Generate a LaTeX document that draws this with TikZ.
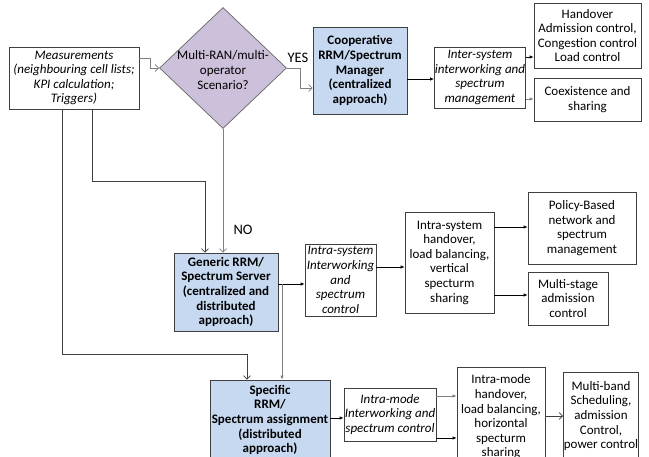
\documentclass[tikz,border=0pt]{standalone}
\usepackage{fontspec}
\setmainfont{Carlito}
\usetikzlibrary{shapes.geometric,arrows.meta}

\definecolor{boxline}{HTML}{404040}
\definecolor{linkgray}{HTML}{7F7F7F}
\definecolor{lilac}{HTML}{CCC0DA}
\definecolor{paleblue}{HTML}{C6D9F1}

\tikzset{
  txt/.style={font=\fontsize{13}{14.6}\selectfont, align=center, inner sep=0.5pt},
  answer/.style={txt, font=\fontsize{14.5}{16}\selectfont},
  plainbox/.style={txt, draw=boxline, line width=0.7pt, fill=white},
  italbox/.style={plainbox, font=\fontsize{13}{14.6}\selectfont\itshape},
  bluebox/.style={txt, draw=boxline, line width=0.7pt, fill=paleblue,
    font=\fontsize{13}{14.6}\selectfont\bfseries},
  dims/.style 2 args={minimum width=#1, minimum height=#2},
  solid link/.style={draw=black, line width=0.7pt, -{Latex[length=4pt,width=3.5pt]}},
  gray link/.style={draw=linkgray, line width=0.9pt, -{Latex[length=4pt,width=3.5pt]}},
  open link/.style={draw=linkgray, line width=0.7pt, -{Straight Barb[length=3.5pt,width=7pt]}},
  dark open link/.style={draw=boxline, line width=0.7pt, -{Straight Barb[length=3.5pt,width=7pt]}},
}

\begin{document}
\begin{tikzpicture}[x=1pt,y=-1pt]
\useasboundingbox (0,0) rectangle (649,457);
\clip (0,0) rectangle (649,457);
\fill[white] (0,0) rectangle (649,457);

% --- top row ---
\node[italbox, dims={130pt}{62pt}] (meas) at (74,78)
  {Measurements\\(neighbouring cell lists;\\KPI calculation;\\Triggers)};

\node[diamond, draw=boxline!80, line width=0.7pt, fill=lilac, inner sep=0pt,
      minimum width=127pt, minimum height=121pt] (dec) at (223,68) {};
\node[txt] (dectext) at (223,70) {Multi-RAN/multi-\\operator\\Scenario?};

\node[bluebox, dims={94pt}{87pt}] (coop) at (360,70.5)
  {Cooperative\\RRM/Spectrum\\Manager\\(centralized\\approach)};

\node[italbox, dims={88pt}{61pt}] (inter) at (480,77.5)
  {Inter-system\\interworking and\\spectrum\\management};

\node[plainbox, dims={107pt}{65pt}] (hand) at (587.5,35.5)
  {Handover\\Admission control,\\Congestion control\\Load control};

\node[plainbox, dims={107pt}{43pt}] (coex) at (587.5,99.5)
  {Coexistence and\\sharing};

% --- middle row ---
\node[bluebox, dims={104pt}{78pt}] (gen) at (226,292)
  {Generic RRM/\\Spectrum Server\\(centralized and\\distributed\\approach)};

\node[italbox, dims={71pt}{72pt}] (isys) at (340.5,280)
  {Intra-system\\Interworking\\and\\spectrum\\control};

\node[plainbox, dims={89pt}{101pt}] (ihand) at (449.5,262.5)
  {Intra-system\\handover,\\load balancing,\\vertical\\specturm\\sharing};

\node[plainbox, dims={108pt}{72pt}] (pol) at (582,228)
  {Policy-Based\\network and\\spectrum\\management};

\node[plainbox, dims={80pt}{53pt}] (mstage) at (568,298.5)
  {Multi-stage\\admission\\control};

% --- bottom row ---
\node[bluebox, dims={120pt}{80pt}] (spec) at (270,420)
  {Specific\\RRM/\\Spectrum assignment\\(distributed\\approach)};

\node[italbox, dims={92pt}{53pt}] (imode) at (390,414.5)
  {Intra-mode\\Interworking and\\spectrum control};

\node[plainbox, dims={88pt}{100pt}] (mhand) at (501,417)
  {Intra-mode\\handover,\\load balancing,\\horizontal\\specturm\\sharing};

\node[plainbox, dims={72pt}{88pt}] (mband) at (601,416)
  {Multi-band\\Scheduling,\\admission\\Control,\\power control};

% --- connectors ---
\draw[open link] (meas.east |- 0,58) -- (150,58) |- (dec.west);
\draw[open link] (dec.east) -- (300,68) |- (coop.west |- 0,88);
\node[answer] (yes) at (298,58) {YES};

\draw[solid link] (coop.east |- 0,79) -- (inter.west |- 0,79);
\draw[solid link] (inter.east |- 0,57) -- (hand.west |- 0,57);
\draw[gray link] (inter.east |- 0,99) -- (coex.west |- 0,99);

\draw[open link] (dec.south) -- (dec.south |- gen.north);
\node[answer] (no) at (243,230) {NO};

\draw[dark open link] (meas.south -| 92,0) -- (92,181) -| (gen.north -| 205,0);
\draw[dark open link] (meas.south -| 62,0) -- (62,354) -| (spec.north -| 247,0);

\draw[solid link] (gen.east |- 0,284) -- (isys.west |- 0,284);
\coordinate (split) at (282,284);
\draw[gray link] (split) -- (spec.north -| split);

\draw[solid link] (isys.east |- 0,267) -- (ihand.west |- 0,267);
\draw[solid link] (ihand.east |- 0,227) -- (pol.west |- 0,227);
\draw[solid link] (ihand.east |- 0,295) -- (mstage.west |- 0,295);

\draw[solid link] (spec.east |- 0,418) -- (imode.west |- 0,418);
\draw[gray link] (imode.east |- 0,396) -- (mhand.west |- 0,396);
\draw[solid link] (imode.east |- 0,438) -- (mhand.west |- 0,438);
\draw[dark open link] (mhand.east |- 0,416) -- (mband.west |- 0,416);
\end{tikzpicture}
\end{document}
